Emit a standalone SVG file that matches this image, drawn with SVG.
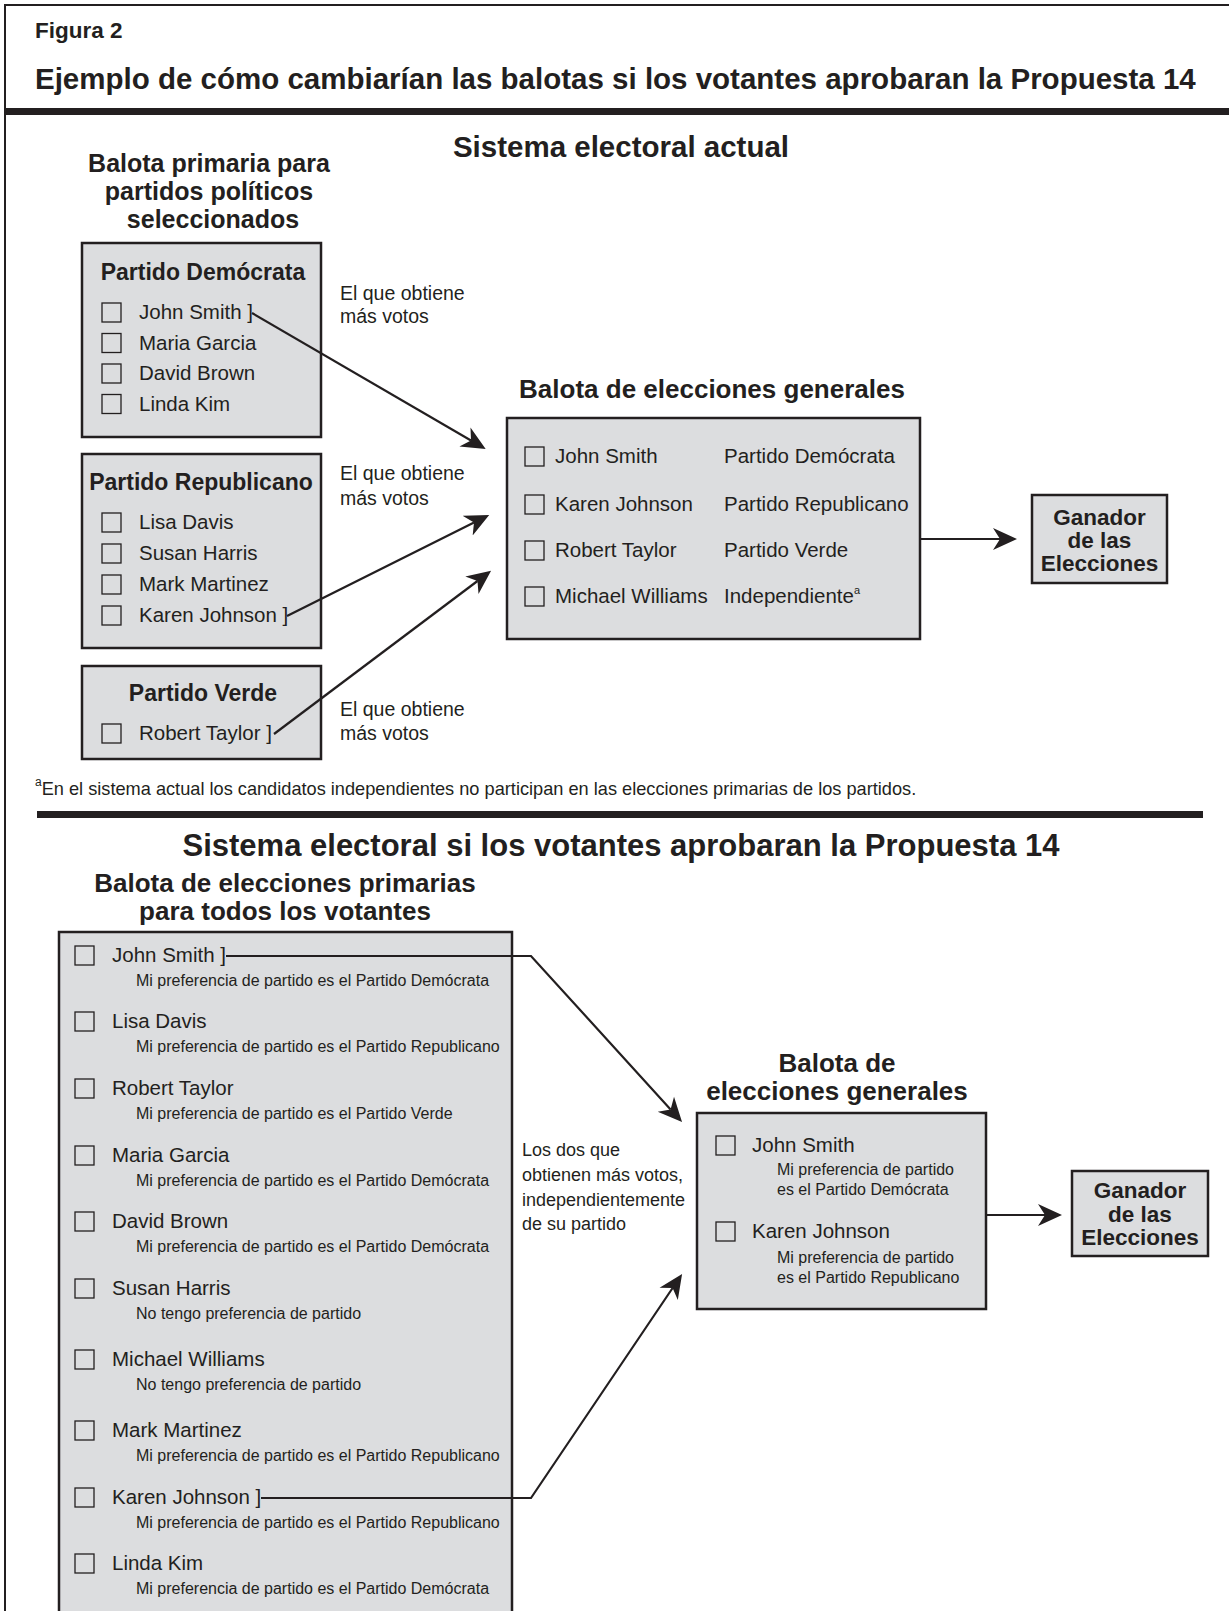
<svg xmlns="http://www.w3.org/2000/svg" width="1229" height="1611" viewBox="0 0 1229 1611">
<style>
.t{font-family:"Liberation Sans",Arial,Helvetica,sans-serif;fill:#231f20}
.b{font-weight:bold}
.h1{font-size:29.5px;font-weight:bold}
.h2{font-size:26px;font-weight:bold}
.h2s{font-size:25px;font-weight:bold}
.h3{font-size:23px;font-weight:bold}
.n{font-size:20.5px}
.s{font-size:16px}
.lbl{font-size:19.5px}
.g{font-size:22.5px;font-weight:bold}
.mid{text-anchor:middle}
.box{fill:#dcdddf;stroke:#231f20;stroke-width:2.5}
.cb{fill:none;stroke:#231f20;stroke-width:1.3}
.conn{fill:none;stroke:#231f20;stroke-width:2.2}
.bar{fill:#231f20}
.frame{fill:none;stroke:#231f20;stroke-width:2}
</style>
<defs>
<marker id="ah" markerUnits="userSpaceOnUse" markerWidth="26" markerHeight="24" viewBox="0 -12 26 24" refX="7" refY="0" orient="auto">
<path d="M0,-11 L24,0 L0,11 L7,0 Z" fill="#231f20"/>
</marker>
</defs>
<rect width="1229" height="1611" fill="#ffffff"/>

<g id="frame">
<path class="frame" d="M5,1611 V5 H1229"/>
<rect class="bar" x="5" y="108" width="1224" height="7"/>
<rect class="bar" x="37" y="811" width="1166" height="7"/>
</g>

<g id="header">
<text class="t b" x="35" y="38" font-size="22.5">Figura 2</text>
<text class="t h1" x="35" y="89">Ejemplo de cómo cambiarían las balotas si los votantes aprobaran la Propuesta 14</text>
</g>

<g id="headings-current">
<text class="t h1 mid" x="621" y="157">Sistema electoral actual</text>
<text class="t h2s mid" x="209" y="172">Balota primaria para</text>
<text class="t h2s mid" x="209" y="200">partidos políticos</text>
<text class="t h2s mid" x="213" y="228">seleccionados</text>
<text class="t h2 mid" x="712" y="398">Balota de elecciones generales</text>
</g>

<g id="dem">
<rect class="box" x="82" y="243" width="239" height="194"/>
<text class="t h3 mid" x="203" y="280">Partido Demócrata</text>
<rect class="cb" x="102" y="303" width="19" height="19"/>
<text class="t n" x="139" y="319">John Smith ]</text>
<rect class="cb" x="102" y="333.5" width="19" height="19"/>
<text class="t n" x="139" y="349.5">Maria Garcia</text>
<rect class="cb" x="102" y="364" width="19" height="19"/>
<text class="t n" x="139" y="380">David Brown</text>
<rect class="cb" x="102" y="394.5" width="19" height="19"/>
<text class="t n" x="139" y="410.5">Linda Kim</text>
</g>

<g id="rep">
<rect class="box" x="82" y="454" width="239" height="194"/>
<text class="t h3 mid" x="201" y="490">Partido Republicano</text>
<rect class="cb" x="102" y="513" width="19" height="19"/>
<text class="t n" x="139" y="529">Lisa Davis</text>
<rect class="cb" x="102" y="544" width="19" height="19"/>
<text class="t n" x="139" y="560">Susan Harris</text>
<rect class="cb" x="102" y="575" width="19" height="19"/>
<text class="t n" x="139" y="591">Mark Martinez</text>
<rect class="cb" x="102" y="606" width="19" height="19"/>
<text class="t n" x="139" y="622">Karen Johnson ]</text>
</g>

<g id="verde">
<rect class="box" x="82" y="666" width="239" height="93"/>
<text class="t h3 mid" x="203" y="701">Partido Verde</text>
<rect class="cb" x="102" y="724" width="19" height="19"/>
<text class="t n" x="139" y="740">Robert Taylor ]</text>
</g>

<g id="labels-current">
<text class="t lbl" x="340" y="300">El que obtiene</text>
<text class="t lbl" x="340" y="323">más votos</text>
<text class="t lbl" x="340" y="480">El que obtiene</text>
<text class="t lbl" x="340" y="505">más votos</text>
<text class="t lbl" x="340" y="716">El que obtiene</text>
<text class="t lbl" x="340" y="740">más votos</text>
</g>

<g id="general-current">
<rect class="box" x="507" y="418" width="413" height="221"/>
<rect class="cb" x="525" y="447" width="19" height="19"/>
<text class="t n" x="555" y="463">John Smith</text>
<text class="t n" x="724" y="463">Partido Demócrata</text>
<rect class="cb" x="525" y="495" width="19" height="19"/>
<text class="t n" x="555" y="511">Karen Johnson</text>
<text class="t n" x="724" y="511">Partido Republicano</text>
<rect class="cb" x="525" y="541" width="19" height="19"/>
<text class="t n" x="555" y="557">Robert Taylor</text>
<text class="t n" x="724" y="557">Partido Verde</text>
<rect class="cb" x="525" y="587" width="19" height="19"/>
<text class="t n" x="555" y="603">Michael Williams</text>
<text class="t n" x="724" y="603">Independiente<tspan font-size="11" dy="-9">a</tspan></text>
</g>

<g id="winner-current">
<rect class="box" x="1032" y="495" width="135" height="88"/>
<text class="t g mid" x="1099.5" y="525">Ganador</text>
<text class="t g mid" x="1099.5" y="548">de las</text>
<text class="t g mid" x="1099.5" y="571">Elecciones</text>
</g>

<g id="footnote">
<text class="t" x="35" y="795" font-size="18.2"><tspan font-size="12" dy="-9">a</tspan><tspan dy="9">En el sistema actual los candidatos independientes no participan en las elecciones primarias de los partidos.</tspan></text>
</g>

<g id="headings-prop">
<text class="t mid" x="621" y="856" font-size="31" font-weight="bold">Sistema electoral si los votantes aprobaran la Propuesta 14</text>
<text class="t h2 mid" x="285" y="892">Balota de elecciones primarias</text>
<text class="t h2 mid" x="285" y="920">para todos los votantes</text>
<text class="t h2 mid" x="837" y="1072">Balota de</text>
<text class="t h2 mid" x="837" y="1100">elecciones generales</text>
</g>

<g id="primary-all">
<rect class="box" x="59" y="932" width="453" height="682"/>
<rect class="cb" x="75" y="946" width="19" height="19"/>
<text class="t n" x="112" y="962">John Smith ]</text>
<text class="t s" x="136" y="986">Mi preferencia de partido es el Partido Demócrata</text>
<rect class="cb" x="75" y="1012" width="19" height="19"/>
<text class="t n" x="112" y="1028">Lisa Davis</text>
<text class="t s" x="136" y="1052">Mi preferencia de partido es el Partido Republicano</text>
<rect class="cb" x="75" y="1079" width="19" height="19"/>
<text class="t n" x="112" y="1095">Robert Taylor</text>
<text class="t s" x="136" y="1119">Mi preferencia de partido es el Partido Verde</text>
<rect class="cb" x="75" y="1146" width="19" height="19"/>
<text class="t n" x="112" y="1162">Maria Garcia</text>
<text class="t s" x="136" y="1186">Mi preferencia de partido es el Partido Demócrata</text>
<rect class="cb" x="75" y="1212" width="19" height="19"/>
<text class="t n" x="112" y="1228">David Brown</text>
<text class="t s" x="136" y="1252">Mi preferencia de partido es el Partido Demócrata</text>
<rect class="cb" x="75" y="1279" width="19" height="19"/>
<text class="t n" x="112" y="1295">Susan Harris</text>
<text class="t s" x="136" y="1319">No tengo preferencia de partido</text>
<rect class="cb" x="75" y="1350" width="19" height="19"/>
<text class="t n" x="112" y="1366">Michael Williams</text>
<text class="t s" x="136" y="1390">No tengo preferencia de partido</text>
<rect class="cb" x="75" y="1421" width="19" height="19"/>
<text class="t n" x="112" y="1437">Mark Martinez</text>
<text class="t s" x="136" y="1461">Mi preferencia de partido es el Partido Republicano</text>
<rect class="cb" x="75" y="1488" width="19" height="19"/>
<text class="t n" x="112" y="1504">Karen Johnson ]</text>
<text class="t s" x="136" y="1528">Mi preferencia de partido es el Partido Republicano</text>
<rect class="cb" x="75" y="1554" width="19" height="19"/>
<text class="t n" x="112" y="1570">Linda Kim</text>
<text class="t s" x="136" y="1594">Mi preferencia de partido es el Partido Demócrata</text>
</g>

<g id="label-prop">
<text class="t" x="522" y="1156" font-size="18">Los dos que</text>
<text class="t" x="522" y="1181" font-size="18">obtienen más votos,</text>
<text class="t" x="522" y="1206" font-size="18">independientemente</text>
<text class="t" x="522" y="1230" font-size="18">de su partido</text>
</g>

<g id="general-prop">
<rect class="box" x="697" y="1113" width="289" height="196"/>
<rect class="cb" x="716" y="1136" width="19" height="19"/>
<text class="t n" x="752" y="1152">John Smith</text>
<text class="t s" x="777" y="1175">Mi preferencia de partido</text>
<text class="t s" x="777" y="1195">es el Partido Demócrata</text>
<rect class="cb" x="716" y="1222" width="19" height="19"/>
<text class="t n" x="752" y="1238">Karen Johnson</text>
<text class="t s" x="777" y="1263">Mi preferencia de partido</text>
<text class="t s" x="777" y="1283">es el Partido Republicano</text>
</g>

<g id="winner-prop">
<rect class="box" x="1072" y="1171" width="136" height="85"/>
<text class="t g mid" x="1140" y="1198">Ganador</text>
<text class="t g mid" x="1140" y="1222">de las</text>
<text class="t g mid" x="1140" y="1245">Elecciones</text>
</g>

<g id="connectors">
<line class="conn" x1="252" y1="313" x2="471" y2="440.5" marker-end="url(#ah)"/>
<line class="conn" x1="287" y1="616" x2="474" y2="522.5" marker-end="url(#ah)"/>
<line class="conn" x1="274" y1="734" x2="477.5" y2="581" marker-end="url(#ah)"/>
<line class="conn" x1="920" y1="539" x2="1000" y2="539" marker-end="url(#ah)"/>
<polyline class="conn" points="226,956 531,956 670.6,1109.4" marker-end="url(#ah)"/>
<polyline class="conn" points="261,1498 531,1498 672.6,1288" marker-end="url(#ah)"/>
<line class="conn" x1="986" y1="1215" x2="1045" y2="1215" marker-end="url(#ah)"/>
</g>
</svg>
